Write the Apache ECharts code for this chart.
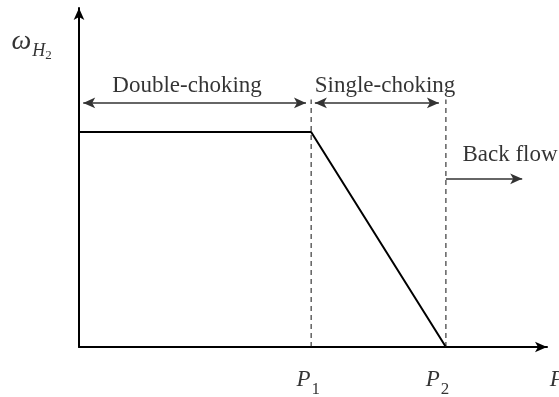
<!DOCTYPE html>
<html>
<head>
<meta charset="utf-8">
<script src="https://cdn.jsdelivr.net/npm/echarts@6/dist/echarts.min.js"></script>
<style>
  html, body { margin: 0; padding: 0; background: #fff; }
  #chart { width: 559px; height: 397px; }
</style>
</head>
<body>
<div id="chart"></div>
<script>
// Schematic: hydrogen mass flow vs. pressure, three flow regimes
const xMax = 100;
const yMax = 100;
const P1 = 49.6;            // end of double-choking
const P2 = 78.4;            // end of single-choking (flow reaches zero)
const plateau = 63.4;       // constant flow while double-choked
const profile = [[0, plateau], [P1, plateau], [P2, 0]];
const dashTop = 73;
const regimeArrowY = 72;
const backFlowY = 49.6;
const doubleChoking = [0.9, 48.5];
const singleChoking = [50.4, 76.9];
const backFlow = [P2, 94.7];
const regimeNames = ['Double-choking', 'Single-choking', 'Back flow'];
const regimeLabelPos = [[23.1, 77], [65.4, 77], [92.1, 56.6]];
const pLabels = ['{p|P}{s|1}', '{p|P}{s|2}', '{p|P}'];
const pLabelX = [49.0, 76.6, 100.6];

const serif = '"Liberation Serif", "Times New Roman", serif';
const arrowColor = '#333';

const chart = echarts.init(document.getElementById('chart'), null, { renderer: 'canvas' });

const arrowLine = (range, y, both) => [
  { coord: [range[0], y], symbol: both ? 'arrow' : 'none' },
  { coord: [range[1], y], symbol: 'arrow' }
];

const textData = regimeNames.map((n, i) => ({
  value: regimeLabelPos[i],
  name: n,
  label: { formatter: n }
}));

pLabels.forEach((t, i) => {
  textData.push({
    value: [pLabelX[i], -9.6],
    label: { formatter: t, align: i === 2 ? 'left' : 'center' }
  });
});

textData.push({
  value: [-5.8, 90],
  label: { formatter: '{w|ω}{h|H}{t|2}', align: 'right' }
});

chart.setOption({
  animation: false,
  grid: { left: 79, right: 12, top: 8, bottom: 50, containLabel: false },
  xAxis: {
    type: 'value', min: 0, max: xMax,
    axisLine: { show: true, onZero: false, symbol: ['none', 'arrow'], symbolSize: [8, 12],
      lineStyle: { color: '#000', width: 2 } },
    axisTick: { show: false }, axisLabel: { show: false }, splitLine: { show: false }
  },
  yAxis: {
    type: 'value', min: 0, max: yMax,
    axisLine: { show: true, onZero: false, symbol: ['none', 'arrow'], symbolSize: [8, 12],
      lineStyle: { color: '#000', width: 2 } },
    axisTick: { show: false }, axisLabel: { show: false }, splitLine: { show: false }
  },
  series: [
    {
      type: 'line',
      data: profile,
      symbol: 'none',
      lineStyle: { color: '#000', width: 2 },
      silent: true,
      markLine: {
        silent: true,
        symbol: ['arrow', 'arrow'],
        symbolSize: [8, 12],
        label: { show: false },
        lineStyle: { color: arrowColor, width: 1.5, type: 'solid' },
        emphasis: { disabled: true },
        data: [
          arrowLine(doubleChoking, regimeArrowY, true),
          arrowLine(singleChoking, regimeArrowY, true),
          arrowLine(backFlow, backFlowY, false)
        ]
      }
    },
    {
      type: 'line', data: [[P1, 0], [P1, dashTop]], symbol: 'none', silent: true,
      lineStyle: { color: '#111', width: 1, type: [5, 4] }
    },
    {
      type: 'line', data: [[P2, 0], [P2, dashTop]], symbol: 'none', silent: true,
      lineStyle: { color: '#111', width: 1, type: [5, 4] }
    },
    {
      type: 'scatter',
      symbolSize: 0,
      clip: false,
      silent: true,
      data: textData,
      label: {
        show: true,
        position: 'inside',
        color: '#000',
        fontFamily: serif,
        fontSize: 23,
        rich: {
          p: { fontFamily: serif, fontStyle: 'italic', fontSize: 23, color: '#000', lineHeight: 23 },
          s: { fontFamily: serif, fontSize: 17, color: '#000', lineHeight: 17, padding: [20, 0, 0, 1] },
          w: { fontFamily: serif, fontStyle: 'italic', fontSize: 28, color: '#000', lineHeight: 28 },
          h: { fontFamily: serif, fontStyle: 'italic', fontSize: 18, color: '#000', lineHeight: 18, padding: [18, 0, 0, 1] },
          t: { fontFamily: serif, fontSize: 13, color: '#000', lineHeight: 13, padding: [28, 0, 0, 0] }
        }
      }
    }
  ]
});
</script>
</body>
</html>
